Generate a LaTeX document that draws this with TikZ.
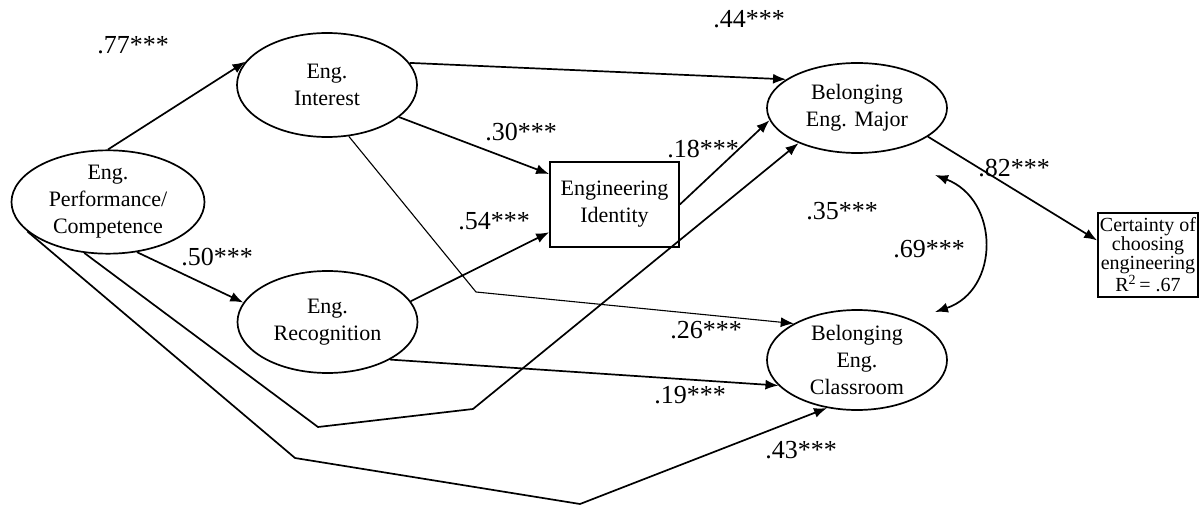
\documentclass[tikz,border=0pt]{standalone}
\usepackage{fontspec}
\setmainfont{Liberation Serif}
\usetikzlibrary{arrows.meta,shapes.geometric}
\begin{document}
\begin{tikzpicture}[x=1pt,y=-1pt,
  ell/.style={draw,ellipse,line width=1.7pt,inner sep=0pt,align=center,font=\fontsize{22}{27}\selectfont},
  rbox/.style={draw,rectangle,line width=1.7pt,inner sep=0pt,align=center},
  lab/.style={inner sep=0pt,font=\fontsize{26}{28}\selectfont},
  arr/.style={line width=1.7pt,-{Latex[length=13pt,width=10pt]}},
  thinarr/.style={line width=1.1pt,-{Latex[length=13pt,width=10pt]}},
  dblarr/.style={line width=1.7pt,{Latex[length=13pt,width=10pt]}-{Latex[length=13pt,width=10pt]}}
  ]
\useasboundingbox (0,0) rectangle (1201,505);
% nodes
\node[ell,minimum width=193pt,minimum height=97pt] (perf) at (108,202) {Eng.\\Performance/\\Competence};
\node[ell,minimum width=180pt,minimum height=104pt] (int) at (327,85) {Eng.\\Interest};
\node[ell,minimum width=180pt,minimum height=102pt] (rec) at (327.5,322) {Eng.\\Recognition};
\node[rbox,minimum width=129pt,minimum height=85pt,font=\fontsize{22}{27}\selectfont] (id) at (614.5,204.5) {Engineering\\Identity};
\node[ell,minimum width=180pt,minimum height=90pt] (maj) at (857,108) {Belonging\\Eng. Major};
\node[ell,minimum width=180pt,minimum height=100pt] (cls) at (857,360) {Belonging\\Eng.\\Classroom};
\node[rbox,minimum width=100pt,minimum height=84pt,font=\fontsize{20}{19}\selectfont] (cert) at (1148,255) {Certainty of\\choosing\\engineering\\R\textsuperscript{2}\,= .67};
% bend points
\coordinate (b1) at (476,292);
\coordinate (b2) at (318,427);
\coordinate (b3) at (473,409);
\coordinate (b4) at (295,458);
\coordinate (b5) at (580,504);
\coordinate (c1) at (935,175);
\coordinate (c2) at (935,312);
% connectors
\draw[arr] (perf.north) -- (int.164);
\draw[arr] (perf.300) -- (rec.167);
\draw[arr] (int.15) -- (maj.158);
\draw[arr] (int.-24) -- (id.155);
\draw[thinarr] (int.-67) -- (b1) -- (cls.150);
\draw[arr] (rec.14) -- (id.203);
\draw[arr] (rec.-31) -- (cls.198);
\draw[arr] (id.east) -- (maj.188);
\draw[arr] (perf.245) -- (b2) -- (b3) -- (maj.211);
\draw[arr] (perf.200) -- (b4) -- (b5) -- (cls.238);
\draw[arr] (maj.-22) -- (cert.164);
\draw[dblarr] (c1) .. controls (1000,200) and (1000,290) .. (c2);
% labels
\node[lab] (l77) at (133,45) {.77***};
\node[lab] (l44) at (749,19) {.44***};
\node[lab] (l30) at (521,132) {.30***};
\node[lab] (l18) at (703,149) {.18***};
\node[lab] (l82) at (1014,168) {.82***};
\node[lab] (l54) at (494,221) {.54***};
\node[lab] (l35) at (842,211) {.35***};
\node[lab] (l50) at (217,257) {.50***};
\node[lab] (l69) at (929,249) {.69***};
\node[lab] (l26) at (706,330) {.26***};
\node[lab] (l19) at (690,395) {.19***};
\node[lab] (l43) at (801,450) {.43***};
\end{tikzpicture}
\end{document}
